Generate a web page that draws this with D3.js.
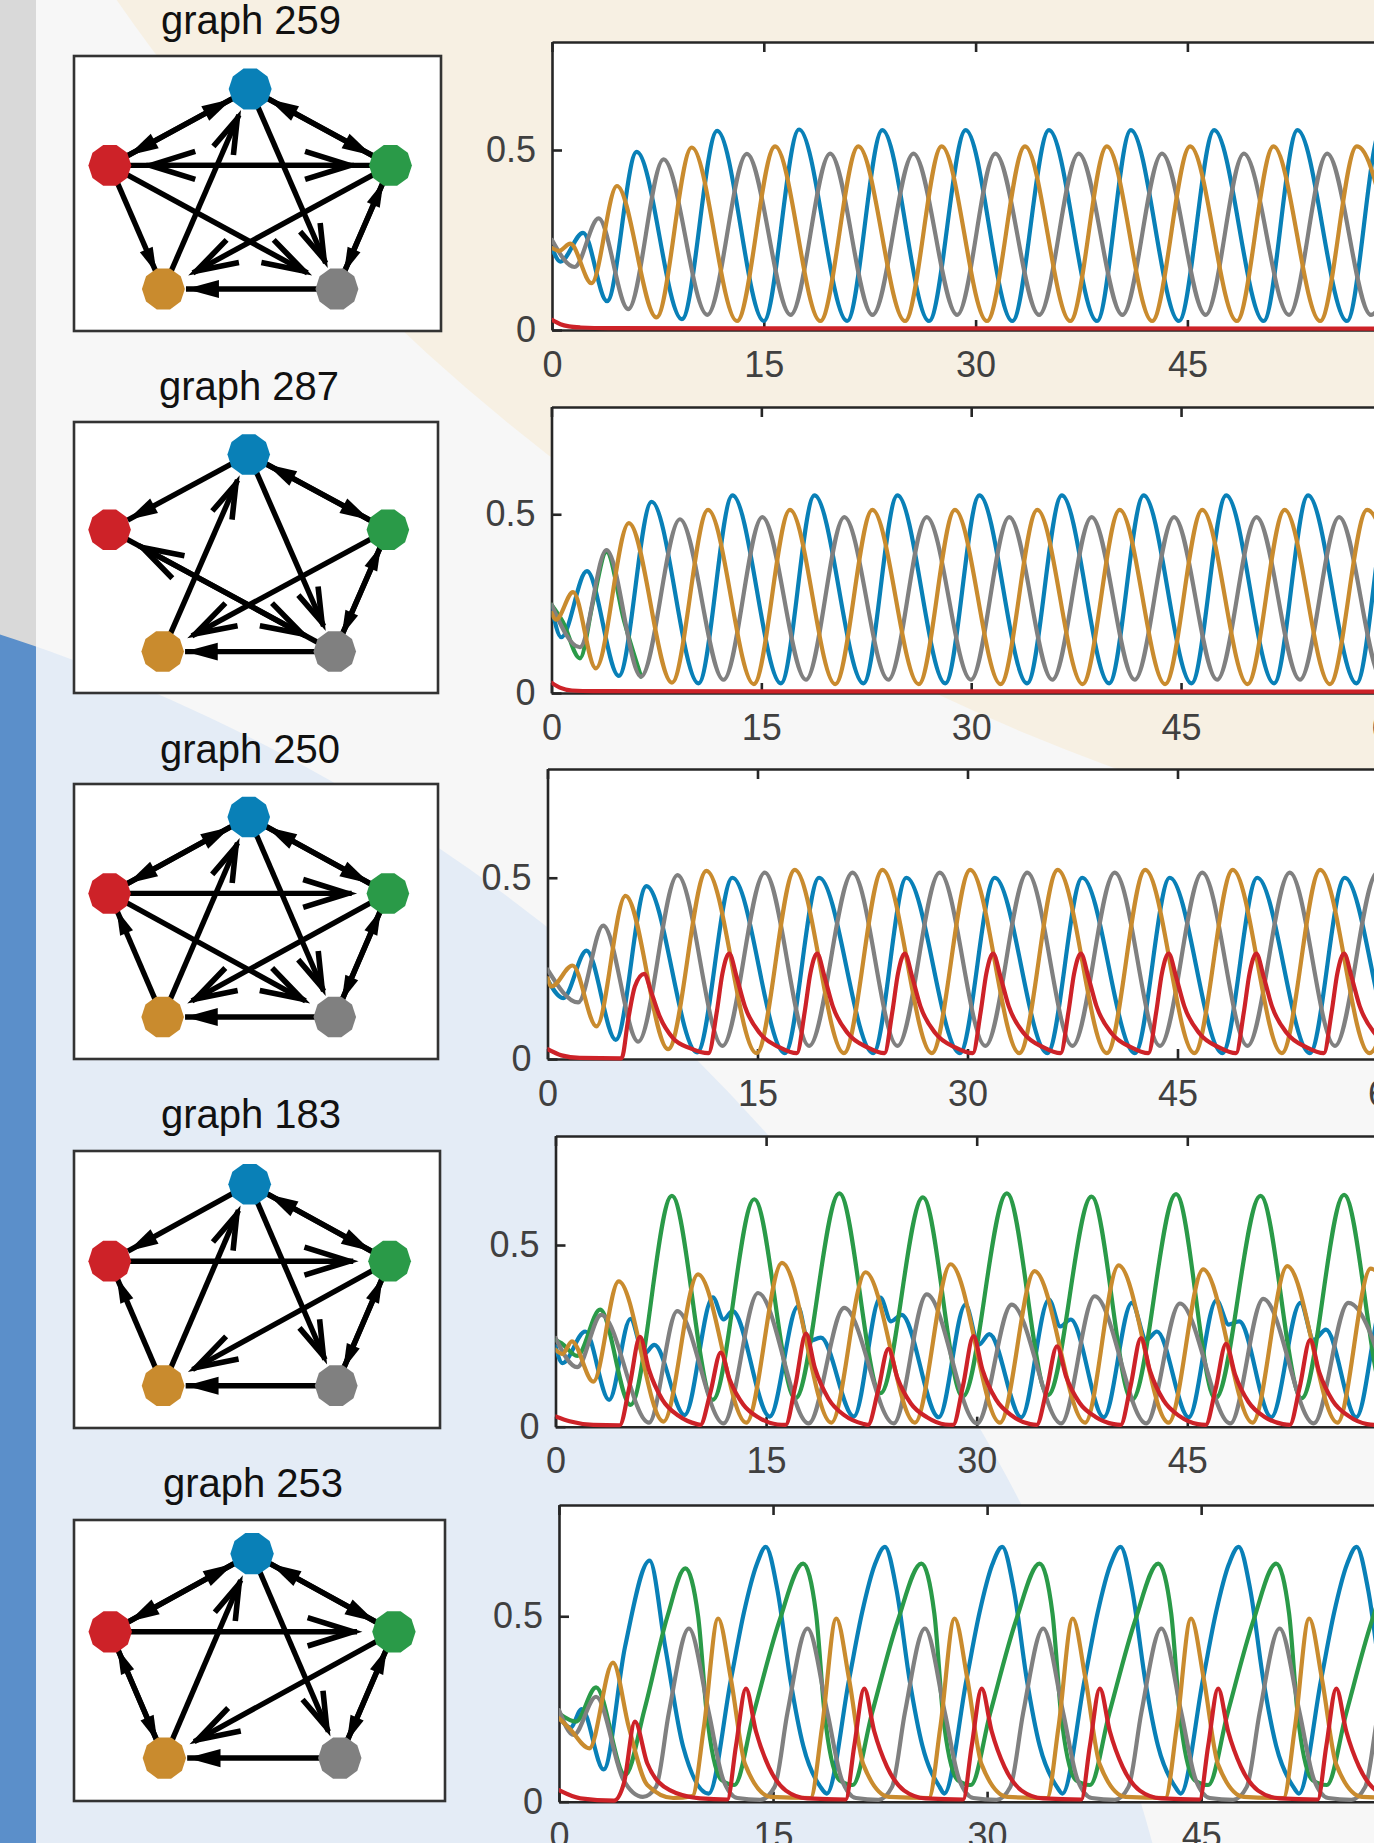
<!DOCTYPE html>
<html>
<head>
<meta charset="utf-8">
<script src="https://cdn.jsdelivr.net/npm/d3@7"></script>
<style>
  body { margin: 0; background: #f7f7f7; }
  svg { display: block; }
  text { font-family: "Liberation Sans", Arial, Helvetica, sans-serif; }
</style>
</head>
<body>
<svg id="fig" width="1374" height="1843"></svg>
<script>
// ---------- node set shared by every motif ----------
const nodeNames  = ["blue", "red", "green", "orange", "gray"];
const nodeColors = ["#0980b7", "#cd2228", "#2a9a48", "#c98b2e", "#808080"];
const graphIds   = [259, 287, 250, 183, 253];
const timeTicks  = [0, 15, 30, 45, 60];
const levelTicks = [0, 0.5];

// directed edges [from, to] (0 blue, 1 red, 2 green, 3 orange, 4 gray)
const edges259 = [[0,1],[1,0],[0,2],[2,0],[1,2],[2,1],[1,3],[1,4],[0,4],[3,0],[2,3],[2,4],[4,2],[4,3]];
const edges287 = [[0,1],[0,2],[2,0],[1,4],[4,1],[3,0],[0,4],[2,3],[2,4],[4,2],[4,3]];
const edges250 = [[0,1],[1,0],[0,2],[2,0],[1,2],[1,4],[0,4],[3,0],[2,3],[3,1],[2,4],[4,2],[4,3]];
const edges183 = [[0,1],[0,2],[2,0],[1,2],[3,1],[3,0],[0,4],[2,3],[2,4],[4,2],[4,3]];
const edges253 = [[0,1],[1,0],[0,2],[2,0],[1,2],[1,3],[3,1],[3,0],[0,4],[2,3],[2,4],[4,2],[4,3]];

// ---------- time courses [t, level] ----------
// graph 259
const blue259 = [[0,.228],[.6,.19],[2.2,.27],[3.9,.08],[6.0,.495],[9.2,.03],[11.7,.553],[15.0,.025],[17.5,.557],[20.9,.025],[23.4,.555],[26.7,.025],[29.3,.555],[32.6,.025],[35.2,.555],[38.6,.025],[41.0,.555],[44.4,.025],[46.9,.555],[50.4,.025],[52.8,.555],[56.3,.025],[58.7,.555],[62.1,.025]];
const gray259 = [[0,.25],[1.6,.175],[3.3,.31],[5.4,.058],[7.9,.474],[11.0,.042],[13.8,.489],[16.9,.042],[19.7,.49],[22.7,.042],[25.6,.49],[28.7,.042],[31.4,.49],[34.5,.042],[37.3,.49],[40.4,.042],[43.2,.49],[46.3,.042],[49.0,.49],[52.2,.042],[54.9,.49],[58.0,.042],[60.8,.49]];
const orange259 = [[0,.228],[.5,.22],[1.3,.24],[2.8,.13],[4.6,.40],[7.4,.035],[9.9,.507],[13.1,.025],[15.8,.51],[19.0,.025],[21.7,.51],[25.0,.025],[27.6,.51],[30.8,.025],[33.5,.51],[36.7,.025],[39.3,.51],[42.5,.025],[45.2,.51],[48.5,.025],[51.1,.51],[54.4,.025],[57.0,.51],[60.3,.025]];
const red259 = [[0,.028],[.6,.016],[1.2,.01],[2,.007],[4,.005],[62,.004]];

// graph 287
const blue287 = [[0,.243],[.7,.156],[2.53,.341],[4.81,.048],[7.16,.535],[10.51,.027],[12.94,.553],[16.4,.027],[18.8,.553],[22.3,.027],[24.73,.553],[28.15,.027],[30.59,.553],[34.0,.027],[36.48,.553],[39.86,.027],[42.33,.553],[45.75,.027],[48.23,.553],[51.65,.027],[54.08,.553],[57.54,.027],[59.95,.553],[63.4,.027]];
const green287 = [[0,.247],[.8,.2],[2.03,.097],[3.0,.26],[3.93,.395],[5.2,.2],[6.4,.046]];
const gray287 = [[0,.247],[2.03,.128],[3.93,.40],[6.4,.046],[9.18,.486],[12.3,.037],[15.07,.492],[18.19,.037],[20.93,.492],[24.08,.037],[26.82,.492],[29.98,.037],[32.72,.492],[35.8,.037],[38.61,.492],[41.69,.037],[44.5,.492],[47.58,.037],[50.4,.492],[53.5,.037],[56.3,.492],[59.4,.037],[62.2,.492]];
const orange287 = [[0,.224],[.32,.205],[1.54,.282],[3.17,.069],[5.53,.475],[8.61,.029],[11.19,.512],[14.46,.025],[17.05,.512],[20.28,.025],[22.94,.512],[26.25,.025],[28.84,.512],[32.1,.025],[34.73,.512],[37.96,.025],[40.62,.512],[43.86,.025],[46.52,.512],[49.75,.025],[52.41,.512],[55.64,.025],[58.3,.512],[61.5,.025]];
const red287 = [[0,.029],[.6,.015],[1.46,.007],[3,.005],[62,.004]];

// graph 250
const blue250 = [[0,.219],[1.12,.168],[2.79,.299],[4.88,.053],[7.07,.477],[10.69,.018],[13.21,.50],[16.95,.016],[19.4,.50],[23.26,.016],[25.64,.50],[29.45,.016],[31.95,.50],[35.7,.016],[38.2,.50],[41.95,.016],[44.45,.50],[48.2,.016],[50.7,.50],[54.45,.016],[56.95,.50],[60.7,.016],[63.2,.50]];
const gray250 = [[0,.247],[2.19,.156],[3.98,.368],[6.48,.048],[9.29,.507],[12.5,.036],[15.52,.514],[18.69,.036],[21.79,.514],[25.0,.036],[28.02,.514],[31.28,.036],[34.27,.514],[37.5,.036],[40.52,.514],[43.75,.036],[46.77,.514],[50.0,.036],[53.02,.514],[56.25,.036],[59.27,.514],[62.5,.036]];
const orange250 = [[0,.223],[.29,.20],[1.79,.258],[3.5,.09],[5.57,.45],[8.62,.027],[11.36,.519],[14.93,.016],[17.67,.522],[21.17,.016],[23.93,.522],[27.45,.016],[30.2,.522],[33.7,.016],[36.45,.522],[39.95,.016],[42.7,.522],[46.2,.016],[48.95,.522],[52.45,.016],[55.2,.522],[58.7,.016],[61.45,.522]];
const red250 = [[0,.027],[1,.01],[2.3,.003],[5.29,.002],[5.76,.108],[6.24,.2],[6.9,.235],[7.43,.182],[8.02,.117],[8.98,.057],[10.17,.03],[11.5,.016],[12.08,.127],[12.5,.237],[12.98,.291],[13.5,.228],[14.1,.145],[15.17,.071],[16.58,.032],[17.81,.016],[18.36,.127],[18.78,.237],[19.26,.291],[19.78,.228],[20.38,.145],[21.45,.071],[22.86,.032],[24.07,.016],[24.62,.127],[25.04,.237],[25.52,.291],[26.04,.228],[26.64,.145],[27.71,.071],[29.12,.032],[30.38,.016],[30.93,.127],[31.35,.237],[31.83,.291],[32.35,.228],[32.95,.145],[34.02,.071],[35.43,.032],[36.65,.016],[37.2,.127],[37.62,.237],[38.1,.291],[38.62,.228],[39.22,.145],[40.29,.071],[41.7,.032],[42.92,.016],[43.47,.127],[43.89,.237],[44.37,.291],[44.89,.228],[45.49,.145],[46.56,.071],[47.97,.032],[49.18,.016],[49.73,.127],[50.15,.237],[50.63,.291],[51.15,.228],[51.75,.145],[52.82,.071],[54.23,.032],[55.45,.016],[56.0,.127],[56.42,.237],[56.9,.291],[57.42,.228],[58.02,.145],[59.09,.071],[60.5,.032],[61.75,.016]];

// graph 183
const blue183 = [[0,.221],[.49,.175],[2.12,.262],[3.82,.074],[5.34,.297],[6.3,.2],[7.04,.225],[9.2,.032],[11.21,.356],[11.97,.295],[12.61,.318],[15.26,.028],[17.27,.331],[18.0,.235],[18.9,.245],[21.25,.028],[23.14,.355],[23.9,.29],[24.65,.308],[27.3,.026],[29.2,.336],[30.15,.226],[30.9,.255],[33.18,.026],[35.15,.35],[35.95,.276],[36.7,.295],[39.05,.026],[41.05,.341],[42.08,.239],[42.84,.262],[45.1,.026],[47.08,.348],[47.95,.281],[48.7,.29],[50.98,.026],[53.06,.341],[54.0,.239],[54.88,.267],[57.04,.026],[59.0,.35],[59.9,.28],[60.6,.3],[63,.026]];
const green183 = [[0,.239],[.41,.23],[1.55,.195],[3.18,.322],[5.34,.06],[8.29,.635],[11.2,.074],[14.16,.626],[17.08,.078],[20.22,.642],[23.14,.092],[26.17,.631],[29.0,.083],[32.15,.642],[35.07,.087],[38.18,.633],[41.06,.074],[44.2,.64],[47.0,.078],[50.22,.635],[53.14,.078],[56.17,.638],[59.1,.08],[62.2,.635]];
const gray183 = [[0,.244],[1.55,.164],[3.26,.308],[6.66,.011],[8.67,.318],[11.97,.009],[14.43,.368],[18.03,.009],[20.56,.327],[24.09,.009],[26.44,.364],[30.03,.009],[32.49,.336],[36.02,.009],[38.4,.359],[42.08,.009],[44.47,.339],[48.07,.009],[50.41,.352],[54.01,.009],[56.47,.341],[60.0,.009]];
const orange183 = [[0,.212],[.5,.2],[1.17,.235],[2.69,.124],[4.5,.40],[7.69,.014],[10.15,.419],[13.59,.011],[16.13,.451],[19.65,.011],[22.08,.425],[25.6,.011],[28.14,.447],[31.66,.011],[34.12,.428],[37.72,.011],[40.11,.444],[43.67,.011],[46.13,.433],[49.65,.011],[52.12,.442],[55.7,.011],[58.06,.435],[61.6,.011]];
const red183 = [[0,.028],[1,.015],[2.69,.005],[4.57,.004],[5.27,.111],[6.02,.247],[6.66,.156],[7.62,.074],[8.77,.03],[10.07,.007],[10.32,.005],[11.02,.092],[11.77,.204],[12.41,.129],[13.37,.061],[14.52,.024],[15.82,.006],[16.39,.005],[17.09,.115],[17.84,.256],[18.48,.161],[19.44,.077],[20.59,.031],[21.89,.008],[22.26,.005],[22.96,.096],[23.71,.214],[24.35,.135],[25.31,.064],[26.46,.026],[27.76,.006],[28.32,.005],[29.02,.112],[29.77,.249],[30.41,.157],[31.37,.075],[32.52,.03],[33.82,.007],[34.27,.005],[34.97,.099],[35.72,.221],[36.36,.139],[37.32,.066],[38.47,.027],[39.77,.007],[40.25,.005],[40.95,.11],[41.7,.244],[42.34,.154],[43.3,.073],[44.45,.029],[45.75,.007],[46.31,.005],[47.01,.103],[47.76,.228],[48.4,.144],[49.36,.068],[50.51,.027],[51.81,.007],[52.3,.005],[53.0,.108],[53.75,.239],[54.39,.151],[55.35,.072],[56.5,.029],[57.8,.007],[58.3,.005],[59.0,.106],[59.75,.235],[60.39,.148],[61.35,.07]];

// graph 253
const blue253 = [[0,.229],[.8,.2],[1.6,.25],[3.13,.087],[4.63,.418],[6.35,.65],[7.44,.418],[8.7,.148],[10.49,.022],[12.05,.33],[12.96,.51],[13.86,.64],[14.49,.687],[15.31,.57],[16.21,.33],[17.12,.15],[18.32,.04],[18.77,.022],[20.33,.33],[21.24,.51],[22.14,.64],[22.84,.687],[23.66,.57],[24.56,.33],[25.47,.15],[26.67,.04],[27.0,.022],[28.56,.33],[29.47,.51],[30.37,.64],[31.06,.687],[31.88,.57],[32.78,.33],[33.69,.15],[34.89,.04],[35.28,.022],[36.84,.33],[37.75,.51],[38.65,.64],[39.35,.687],[40.17,.57],[41.07,.33],[41.98,.15],[43.18,.04],[43.57,.022],[45.13,.33],[46.04,.51],[46.94,.64],[47.63,.687],[48.45,.57],[49.35,.33],[50.26,.15],[51.46,.04],[51.85,.022],[53.41,.33],[54.32,.51],[55.22,.64],[55.89,.687],[56.71,.57],[57.61,.33],[58.52,.15],[59.72,.04],[60.1,.022],[61.66,.33]];
const green253 = [[0,.238],[1.19,.216],[2.6,.308],[4.63,.072],[6.0,.25],[7.6,.5],[8.85,.629],[9.75,.5],[10.35,.24],[11.4,.058],[12.29,.045],[13.64,.238],[15.45,.488],[17.11,.642],[18.01,.508],[18.61,.238],[19.66,.058],[20.58,.045],[21.93,.238],[23.74,.488],[25.4,.642],[26.3,.508],[26.9,.238],[27.95,.058],[28.86,.045],[30.21,.238],[32.02,.488],[33.68,.642],[34.58,.508],[35.18,.238],[36.23,.058],[37.21,.045],[38.56,.238],[40.37,.488],[42.0,.642],[42.9,.508],[43.5,.238],[44.55,.058],[45.5,.045],[46.85,.238],[48.66,.488],[50.26,.642],[51.16,.508],[51.76,.238],[52.81,.058],[53.81,.045],[55.16,.238],[56.97,.488],[58.55,.642],[59.45,.508],[60.05,.238],[61.1,.058],[62.1,.045]];
const gray253 = [[0,.247],[1.03,.18],[2.6,.283],[4.5,.06],[5.88,.013],[6.8,.04],[7.7,.24],[9.1,.467],[10.5,.24],[11.5,.06],[12.5,.01],[14.1,.005],[15.11,.04],[16.01,.24],[17.41,.467],[18.81,.24],[19.81,.06],[20.81,.01],[22.39,.005],[23.34,.04],[24.24,.24],[25.64,.467],[27.04,.24],[28.04,.06],[29.04,.01],[30.67,.005],[31.63,.04],[32.53,.24],[33.93,.467],[35.33,.24],[36.33,.06],[37.33,.01],[38.96,.005],[39.91,.04],[40.81,.24],[42.21,.467],[43.61,.24],[44.61,.06],[45.61,.01],[47.24,.005],[48.2,.04],[49.1,.24],[50.5,.467],[51.9,.24],[52.9,.06],[53.9,.01],[55.53,.005],[56.5,.04],[57.4,.24],[58.8,.467],[60.2,.24],[61.2,.06]];
const orange253 = [[0,.225],[.72,.198],[2.13,.144],[3.78,.375],[4.9,.2],[6.19,.045],[8.0,.01],[9.35,.015],[10.15,.2],[11.15,.494],[12.05,.33],[13.05,.1],[14.85,.013],[17.63,.01],[18.43,.2],[19.43,.494],[20.33,.33],[21.33,.1],[23.13,.013],[25.92,.01],[26.72,.2],[27.72,.494],[28.62,.33],[29.62,.1],[31.42,.013],[34.2,.01],[35.0,.2],[36.0,.494],[36.9,.33],[37.9,.1],[39.7,.013],[42.49,.01],[43.29,.2],[44.29,.494],[45.19,.33],[46.19,.1],[47.99,.013],[50.77,.01],[51.57,.2],[52.57,.494],[53.47,.33],[54.47,.1],[56.27,.013],[59.05,.01],[59.85,.2],[60.85,.494]];
const red253 = [[0,.031],[1.5,.009],[3.85,.003],[4.55,.05],[5.32,.216],[6.19,.103],[7.76,.031],[9.88,.009],[11.8,.006],[12.4,.15],[13.1,.305],[13.8,.19],[14.7,.094],[15.9,.03],[17.4,.009],[20.09,.006],[20.69,.15],[21.39,.305],[22.09,.19],[22.99,.094],[24.19,.03],[25.69,.009],[28.32,.006],[28.92,.15],[29.62,.305],[30.32,.19],[31.22,.094],[32.42,.03],[33.92,.009],[36.6,.006],[37.2,.15],[37.9,.305],[38.6,.19],[39.5,.094],[40.7,.03],[42.2,.009],[44.89,.006],[45.49,.15],[46.19,.305],[46.89,.19],[47.79,.094],[48.99,.03],[50.49,.009],[53.17,.006],[53.77,.15],[54.47,.305],[55.17,.19],[56.07,.094],[57.27,.03],[58.77,.009],[61.45,.006]];

// ---------- per-row tables built from the arrays above ----------
const colorOf = Object.fromEntries(nodeNames.map((n, i) => [n, nodeColors[i]]));
const rowEdges = [edges259, edges287, edges250, edges183, edges253];
const rowSeries = [
  [["blue", blue259], ["gray", gray259], ["orange", orange259], ["red", red259]],
  [["blue", blue287], ["green", green287], ["gray", gray287], ["orange", orange287], ["red", red287]],
  [["blue", blue250], ["gray", gray250], ["orange", orange250], ["red", red250]],
  [["blue", blue183], ["green", green183], ["gray", gray183], ["orange", orange183], ["red", red183]],
  [["blue", blue253], ["green", green253], ["gray", gray253], ["orange", orange253], ["red", red253]]
];

// page geometry for each row: title anchor, network frame, time-course frame
const rowLayout = [
  { title: [251, 34],   box: [74, 56, 367, 275],   plot: { x0: 552,   k: 14.12, bottom: 330,    top: 42 } },
  { title: [249, 400],  box: [74, 422, 364, 271],  plot: { x0: 551.5, k: 13.99, bottom: 693,    top: 407 } },
  { title: [250, 763],  box: [74, 784, 364, 275],  plot: { x0: 547.5, k: 14.0,  bottom: 1059,   top: 769 } },
  { title: [251, 1128], box: [74, 1151, 366, 277], plot: { x0: 555.5, k: 14.04, bottom: 1426.7, top: 1136 } },
  { title: [253, 1497], box: [74, 1520, 371, 281], plot: { x0: 559,   k: 14.27, bottom: 1801.7, top: 1505 } }
];

// unit-circle placement of the five nodes (top, left, right, bottom-left, bottom-right)
const nodeUnit = [[0, 1], [-0.951, 0.309], [0.951, 0.309], [-0.588, -0.809], [0.588, -0.809]];
const ring = [0, 2, 4, 3, 1];
function isSide(a, b) {
  const i = ring.indexOf(a), j = ring.indexOf(b);
  const d = Math.abs(i - j);
  return d === 1 || d === 4;
}

const svg = d3.select("#fig");
const W = 1374, H = 1843;

// ---------- backdrop ----------
const defs = svg.append("defs");
defs.append("clipPath").attr("id", "mainArea").append("rect").attr("x", 36).attr("y", 0).attr("width", W - 36).attr("height", H);
defs.append("clipPath").attr("id", "strip").append("rect").attr("x", 0).attr("y", 0).attr("width", 36).attr("height", H);

svg.append("rect").attr("width", W).attr("height", H).attr("fill", "#f7f7f7");
const mainBg = svg.append("g").attr("clip-path", "url(#mainArea)");
mainBg.append("circle").attr("cx", 1828).attr("cy", -1191).attr("r", 2085).attr("fill", "#f7f0e3");
mainBg.append("circle").attr("cx", -541).attr("cy", 2304).attr("r", 1755).attr("fill", "#e4ecf6");
const stripBg = svg.append("g").attr("clip-path", "url(#strip)");
stripBg.append("rect").attr("width", 36).attr("height", H).attr("fill", "#d9d9d9");
stripBg.append("circle").attr("cx", -541).attr("cy", 2304).attr("r", 1755).attr("fill", "#5b8fca");

// ---------- network motif ----------
function drawNetwork(g, box, edges) {
  const [bx, by, bw, bh] = box;
  g.append("rect").attr("x", bx).attr("y", by).attr("width", bw).attr("height", bh)
    .attr("fill", "#ffffff").attr("stroke", "#333333").attr("stroke-width", 2.6);

  const sx = d3.scaleLinear([-1, 1], [bx + bw * (0.48 - 0.402), bx + bw * (0.48 + 0.402)]);
  const sy = d3.scaleLinear([-1, 1], [by + bh * (0.522 + 0.402), by + bh * (0.522 - 0.402)]);
  const pts = nodeUnit.map(([u, v]) => [sx(u), sy(v)]);
  const r = bw * 0.0585;

  const eg = g.append("g");
  edges.forEach(([a, b]) => {
    const [x1, y1] = pts[a], [x2, y2] = pts[b];
    const L = Math.hypot(x2 - x1, y2 - y1);
    const ux = (x2 - x1) / L, uy = (y2 - y1) / L;
    const nx = -uy, ny = ux;
    const side = isSide(a, b);
    const tipD = 0.13 * L;
    const tx = x2 - ux * tipD, ty = y2 - uy * tipD;
    eg.append("line").attr("x1", x1).attr("y1", y1).attr("x2", tx).attr("y2", ty)
      .attr("stroke", "#000").attr("stroke-width", 5.4);
    if (side) {
      const len = 0.19 * L, hw = 0.052 * L;
      const bxp = tx - ux * len, byp = ty - uy * len;
      eg.append("path")
        .attr("d", `M${tx},${ty}L${bxp + nx * hw},${byp + ny * hw}L${bxp - nx * hw},${byp - ny * hw}Z`)
        .attr("fill", "#000");
    } else {
      const len = 0.16 * L, hw = 0.05 * L;
      const t2x = tx - ux * 4, t2y = ty - uy * 4;
      const bxp = t2x - ux * len, byp = t2y - uy * len;
      eg.append("path")
        .attr("d", `M${bxp + nx * hw},${byp + ny * hw}L${t2x},${t2y}L${bxp - nx * hw},${byp - ny * hw}`)
        .attr("fill", "none").attr("stroke", "#000").attr("stroke-width", 5.6)
        .attr("stroke-linejoin", "miter").attr("stroke-miterlimit", 10);
    }
  });

  const ng = g.append("g");
  pts.forEach(([cx, cy], i) => {
    const poly = d3.range(10).map(k => {
      const ang = k * Math.PI / 5;
      return [cx + r * Math.cos(ang), cy + r * Math.sin(ang)];
    });
    ng.append("path").attr("d", "M" + poly.join("L") + "Z").attr("fill", nodeColors[i]);
  });
}

// ---------- time-course panel ----------
const tMax = 70;
function drawPlot(g, P, series, idx) {
  const x = d3.scaleLinear([0, tMax], [P.x0, P.x0 + tMax * P.k]);
  const y = d3.scaleLinear([0, 0.8], [P.bottom, P.top]);

  g.append("rect").attr("x", x(0)).attr("y", y(0.8)).attr("width", x(tMax) - x(0)).attr("height", y(0) - y(0.8))
    .attr("fill", "#ffffff");

  const clipId = "plotClip" + idx;
  defs.append("clipPath").attr("id", clipId).append("rect")
    .attr("x", x(0)).attr("y", y(0.8)).attr("width", x(tMax) - x(0)).attr("height", y(0) - y(0.8) + 2);

  const axisStyle = sel => {
    sel.select(".domain").attr("stroke", "#262626").attr("stroke-width", 2.6);
    sel.selectAll(".tick line").attr("stroke", "#262626").attr("stroke-width", 2.6);
    sel.selectAll(".tick text").attr("fill", "#404040").attr("font-size", 36)
      .attr("font-family", "'Liberation Sans', Arial, Helvetica, sans-serif");
  };

  g.append("g").attr("transform", `translate(0,${y(0)})`)
    .call(d3.axisBottom(x).tickValues(timeTicks).tickSizeInner(-10).tickSizeOuter(0).tickPadding(21))
    .call(axisStyle);
  g.append("g").attr("transform", `translate(0,${y(0.8)})`)
    .call(d3.axisTop(x).tickValues(timeTicks).tickSizeInner(-10).tickSizeOuter(0).tickFormat(""))
    .call(axisStyle);
  g.append("g").attr("transform", `translate(${x(0)},0)`)
    .call(d3.axisLeft(y).tickValues(levelTicks).tickSizeInner(-10).tickSizeOuter(0).tickPadding(16)
      .tickFormat(d3.format("")))
    .call(axisStyle);

  const line = d3.line().x(d => x(d[0])).y(d => y(d[1])).curve(d3.curveMonotoneX);
  const lg = g.append("g").attr("clip-path", `url(#${clipId})`);
  series.forEach(([name, data]) => {
    lg.append("path").attr("d", line(data)).attr("fill", "none")
      .attr("stroke", colorOf[name]).attr("stroke-width", 4.2)
      .attr("stroke-linejoin", "round").attr("stroke-linecap", "round");
  });
}

// ---------- assemble rows ----------
graphIds.forEach((id, i) => {
  const L = rowLayout[i];
  const g = svg.append("g");
  g.append("text").attr("x", L.title[0]).attr("y", L.title[1]).attr("text-anchor", "middle")
    .attr("font-size", 40).attr("fill", "#111111").text("graph " + id);
  drawNetwork(g, L.box, rowEdges[i]);
  drawPlot(g, L.plot, rowSeries[i], i);
});
</script>
</body>
</html>
